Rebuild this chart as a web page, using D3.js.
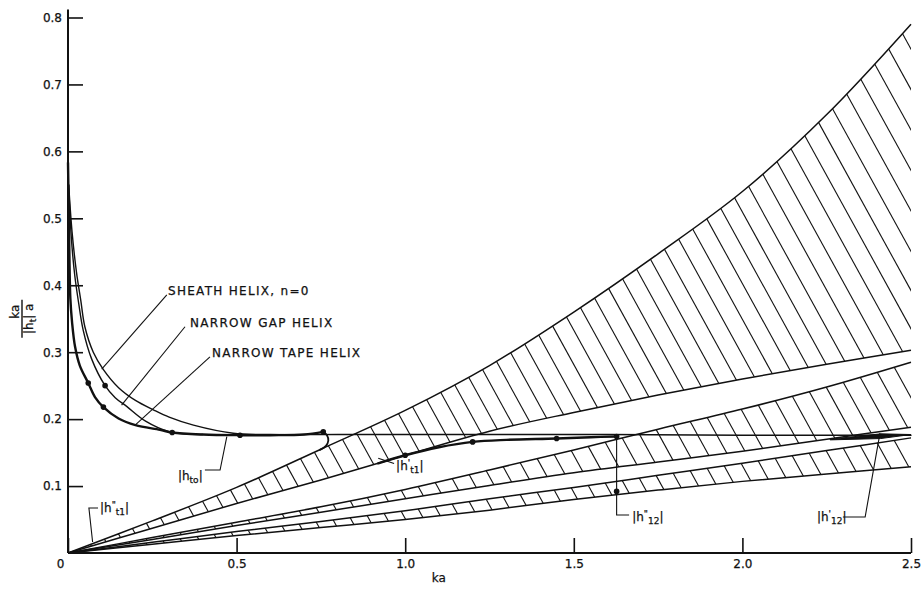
<!DOCTYPE html>
<html><head><meta charset="utf-8">
<script src="https://cdn.jsdelivr.net/npm/d3@7"></script>
<style>
body{margin:0;background:#fff}
text{font-family:"DejaVu Sans",sans-serif;fill:#111;stroke:#111;stroke-width:0.25px}
</style>
</head><body>
<svg id="chart" width="921" height="589"></svg>
<script>
// ---------- data ----------
const bandKa     = [0,0.25,0.5,0.75,1.0,1.25,1.5,1.75,2.0,2.25,2.5];
const bandAUpper = [0,0.048,0.098,0.155,0.213,0.28,0.36,0.447,0.54,0.655,0.79];
const bandALower = [0,0.037,0.074,0.109,0.146,0.182,0.21,0.236,0.26,0.282,0.303];
const bandBUpper = [0,0.023,0.046,0.069,0.095,0.124,0.154,0.185,0.215,0.248,0.285];
const bandBLower = [0,0.02,0.041,0.061,0.081,0.101,0.12,0.136,0.152,0.17,0.188];
const bandCUpper = [0,0.016,0.032,0.047,0.063,0.081,0.098,0.116,0.134,0.153,0.172];
const bandCLower = [0,0.013,0.026,0.038,0.05,0.064,0.08,0.094,0.107,0.118,0.129];

const sheathKa  = [0.002,0.012,0.025,0.038,0.05,0.075,0.105,0.15,0.2,0.253,0.3,0.372,0.49,0.6,0.8,1.2,1.6,2.0,2.5];
const sheathVal = [0.55,0.48,0.42,0.377,0.338,0.300,0.274,0.247,0.228,0.214,0.203,0.191,0.179,0.177,0.177,0.177,0.177,0.176,0.176];

const gapKa  = [0.002,0.01,0.02,0.032,0.045,0.07,0.11,0.14,0.174,0.23,0.302,0.4];
const gapVal = [0.55,0.47,0.415,0.372,0.333,0.29,0.25,0.232,0.219,0.197,0.181,0.177];

const tapeKa  = [0.0,0.002,0.004,0.007,0.012,0.021,0.035,0.06,0.08,0.105,0.15,0.2,0.273,0.309,0.4,0.51,0.6,0.7,0.757];
const tapeVal = [0.583,0.52,0.45,0.38,0.345,0.308,0.28,0.254,0.233,0.218,0.201,0.191,0.184,0.18,0.177,0.176,0.176,0.177,0.181];

const hookKa  = [0.757,0.768,0.772,0.765,0.747];
const hookVal = [0.181,0.176,0.168,0.160,0.154];

const ht1Ka  = [0.92,1.0,1.1,1.2,1.3,1.449,1.55,1.627];
const ht1Val = [0.134,0.146,0.158,0.166,0.169,0.171,0.173,0.174];

const h12Ka  = [2.26,2.41,2.5,2.41,2.26];
const h12Val = [0.170,0.178,0.177,0.171,0.169];

const tapeDotKa  = [0.06,0.105,0.309,0.51,0.757];
const tapeDotVal = [0.254,0.218,0.18,0.176,0.181];
const gapDotKa   = [0.11];
const gapDotVal  = [0.25];
const ht1DotKa   = [1.0,1.2,1.449,1.627];
const ht1DotVal  = [0.146,0.166,0.171,0.174];
const h12DotKa   = [1.627];
const h12DotVal  = [0.092];

const xTickValues = [0,0.5,1.0,1.5,2.0,2.5];
const xTickLabels = ["0","0.5","1.0","1.5","2.0","2.5"];
const yTickValues = [0.1,0.2,0.3,0.4,0.5,0.6,0.7,0.8];
const yTickLabels = ["0.1","0.2","0.3","0.4","0.5","0.6","0.7","0.8"];

// ---------- setup ----------
const svg = d3.select("#chart");
const x = d3.scaleLinear().domain([0,2.5]).range([68,911]);
const y = d3.scaleLinear().domain([0,0.8]).range([553,17.5]);
const zip = (a,b) => a.map((v,i)=>[v,b[i]]);
const curve = d3.curveCatmullRom.alpha(0.5);
const line = d3.line().x(d=>x(d[0])).y(d=>y(d[1])).curve(curve);

// ---------- hatched bands ----------
function band(upper, lower, spacing, id){
  const area = d3.area().x((d,i)=>x(bandKa[i])).y1((d,i)=>y(upper[i])).y0((d,i)=>y(lower[i])).curve(d3.curveMonotoneX);
  svg.append("clipPath").attr("id",id).append("path").attr("d", area(bandKa));
  const up = d3.scaleLinear().domain(bandKa).range(upper);
  const g = svg.append("g").attr("clip-path",`url(#${id})`);
  const k = 0.55;
  for(let px = x(0)+spacing*0.6; px < x(2.5)+spacing; px += spacing){
    const yy = y(up(Math.min(x.invert(px),2.5)));
    g.append("line").attr("x1",px-k*10).attr("y1",yy-10).attr("x2",px+k*300).attr("y2",yy+300)
      .attr("stroke","#111").attr("stroke-width",1.1);
  }
  svg.append("path").attr("d", line(zip(bandKa,upper))).attr("fill","none").attr("stroke","#111").attr("stroke-width",1.5);
  svg.append("path").attr("d", line(zip(bandKa,lower))).attr("fill","none").attr("stroke","#111").attr("stroke-width",1.5);
}
band(bandAUpper, bandALower, 14, "clipA");
band(bandBUpper, bandBLower, 17, "clipB");
band(bandCUpper, bandCLower, 17, "clipC");

// ---------- axes ----------
const xAxis = d3.axisBottom(x).tickValues(xTickValues).tickSize(-15).tickSizeOuter(0).tickPadding(6)
  .tickFormat((d,i)=>xTickLabels[i]);
const gx = svg.append("g").attr("transform",`translate(0,${y(0)})`).call(xAxis);
const yAxis = d3.axisLeft(y).tickValues(yTickValues).tickSize(-15).tickSizeOuter(0).tickPadding(6)
  .tickFormat((d,i)=>yTickLabels[i]);
const gy = svg.append("g").attr("transform",`translate(${x(0)},0)`).call(yAxis);
[gx,gy].forEach(g=>{
  g.select(".domain").remove();
  g.selectAll("line").attr("stroke","#111").attr("stroke-width",1.6);
  g.selectAll("text").attr("font-size",12).attr("font-family","DejaVu Sans").attr("fill","#111");
});
gx.selectAll(".tick").filter(d=>d===0).select("text").attr("dx",-8);
svg.append("line").attr("x1",x(0)).attr("x2",x(2.5)).attr("y1",y(0)).attr("y2",y(0)).attr("stroke","#111").attr("stroke-width",2);
svg.append("line").attr("x1",x(0)).attr("x2",x(0)).attr("y1",y(0)).attr("y2",y(0.8)-8).attr("stroke","#111").attr("stroke-width",2);

svg.append("text").attr("x",x(1.1)).attr("y",y(0)+29).attr("text-anchor","middle").attr("font-size",12).text("ka");

const yl = svg.append("g").attr("transform",`translate(22,${y(0.35)})rotate(-90)`);
yl.append("text").attr("x",7).attr("y",-3).attr("text-anchor","middle").attr("font-size",12).text("ka");
yl.append("line").attr("x1",-19).attr("x2",19).attr("y1",0).attr("y2",0).attr("stroke","#111").attr("stroke-width",1.4);
const dt = yl.append("text").attr("x",0).attr("y",11).attr("text-anchor","middle").attr("font-size",12);
dt.append("tspan").text("|h");
dt.append("tspan").attr("font-size",9).attr("dy",3).text("t");
dt.append("tspan").attr("dy",-3).text("| a");

// ---------- curves ----------
function curvePath(ka, val, w){
  svg.append("path").attr("d", line(zip(ka,val))).attr("fill","none").attr("stroke","#111")
    .attr("stroke-width",w).attr("stroke-linejoin","round").attr("stroke-linecap","round");
}
curvePath(sheathKa, sheathVal, 1.4);
curvePath(gapKa, gapVal, 1.4);
curvePath(tapeKa, tapeVal, 2.4);
curvePath(hookKa, hookVal, 1.8);
curvePath(ht1Ka, ht1Val, 2.4);
svg.append("path").attr("d", d3.line().x(d=>x(d[0])).y(d=>y(d[1]))(zip(h12Ka,h12Val))+"Z")
  .attr("fill","#111").attr("stroke","#111").attr("stroke-width",1);

function dots(ka,val){
  svg.selectAll(null).data(zip(ka,val)).enter().append("circle")
    .attr("cx",d=>x(d[0])).attr("cy",d=>y(d[1])).attr("r",2.8).attr("fill","#111");
}
dots(tapeDotKa,tapeDotVal); dots(gapDotKa,gapDotVal); dots(ht1DotKa,ht1DotVal); dots(h12DotKa,h12DotVal);

// ---------- annotations ----------
function leader(pts){
  svg.append("path").attr("d", d3.line().x(d=>x(d[0])).y(d=>y(d[1]))(pts))
    .attr("fill","none").attr("stroke","#111").attr("stroke-width",1.1);
}
function label(ka,val,txt){
  svg.append("text").attr("x",x(ka)).attr("y",y(val)).attr("font-size",12).attr("letter-spacing",1.3).text(txt);
}
label(0.2966,0.3857,"SHEATH HELIX, n=0");
leader([[0.293,0.3857],[0.1,0.2746]]);
label(0.362,0.338,"NARROW GAP HELIX");
leader([[0.347,0.338],[0.159,0.221]]);
label(0.427,0.293,"NARROW TAPE HELIX");
leader([[0.421,0.293],[0.199,0.191]]);

function hLabel(ka,val,parts){
  const t = svg.append("text").attr("x",x(ka)).attr("y",y(val)).attr("font-size",12);
  let cur = 0;
  parts.forEach(p=>{
    const target = p.sub ? 3 : (p.sup ? -4 : 0);
    t.append("tspan").attr("dy",target-cur).attr("font-size",p.sub||p.sup?9:12).text(p.t);
    cur = target;
  });
}
hLabel(0.326,0.109,[{t:"|h"},{t:"to",sub:1},{t:"|"}]);
leader([[0.406,0.124],[0.451,0.124],[0.471,0.174]]);
hLabel(0.973,0.124,[{t:"|h"},{t:"'",sup:1},{t:"t1",sub:1},{t:"|"}]);
leader([[0.920,0.1416],[0.967,0.1338]]);
hLabel(1.673,0.048,[{t:"|h"},{t:"\"",sup:1},{t:"12",sub:1},{t:"|"}]);
leader([[1.627,0.1734],[1.627,0.0568],[1.664,0.0568]]);
hLabel(2.221,0.048,[{t:"|h"},{t:"'",sup:1},{t:"12",sub:1},{t:"|"}]);
leader([[2.298,0.0538],[2.364,0.0538],[2.408,0.179]]);
hLabel(0.095,0.0613,[{t:"|h"},{t:"\"",sup:1},{t:"t1",sub:1},{t:"|"}]);
leader([[0.089,0.0673],[0.062,0.0673],[0.073,0.0164]]);
</script>
</body></html>
